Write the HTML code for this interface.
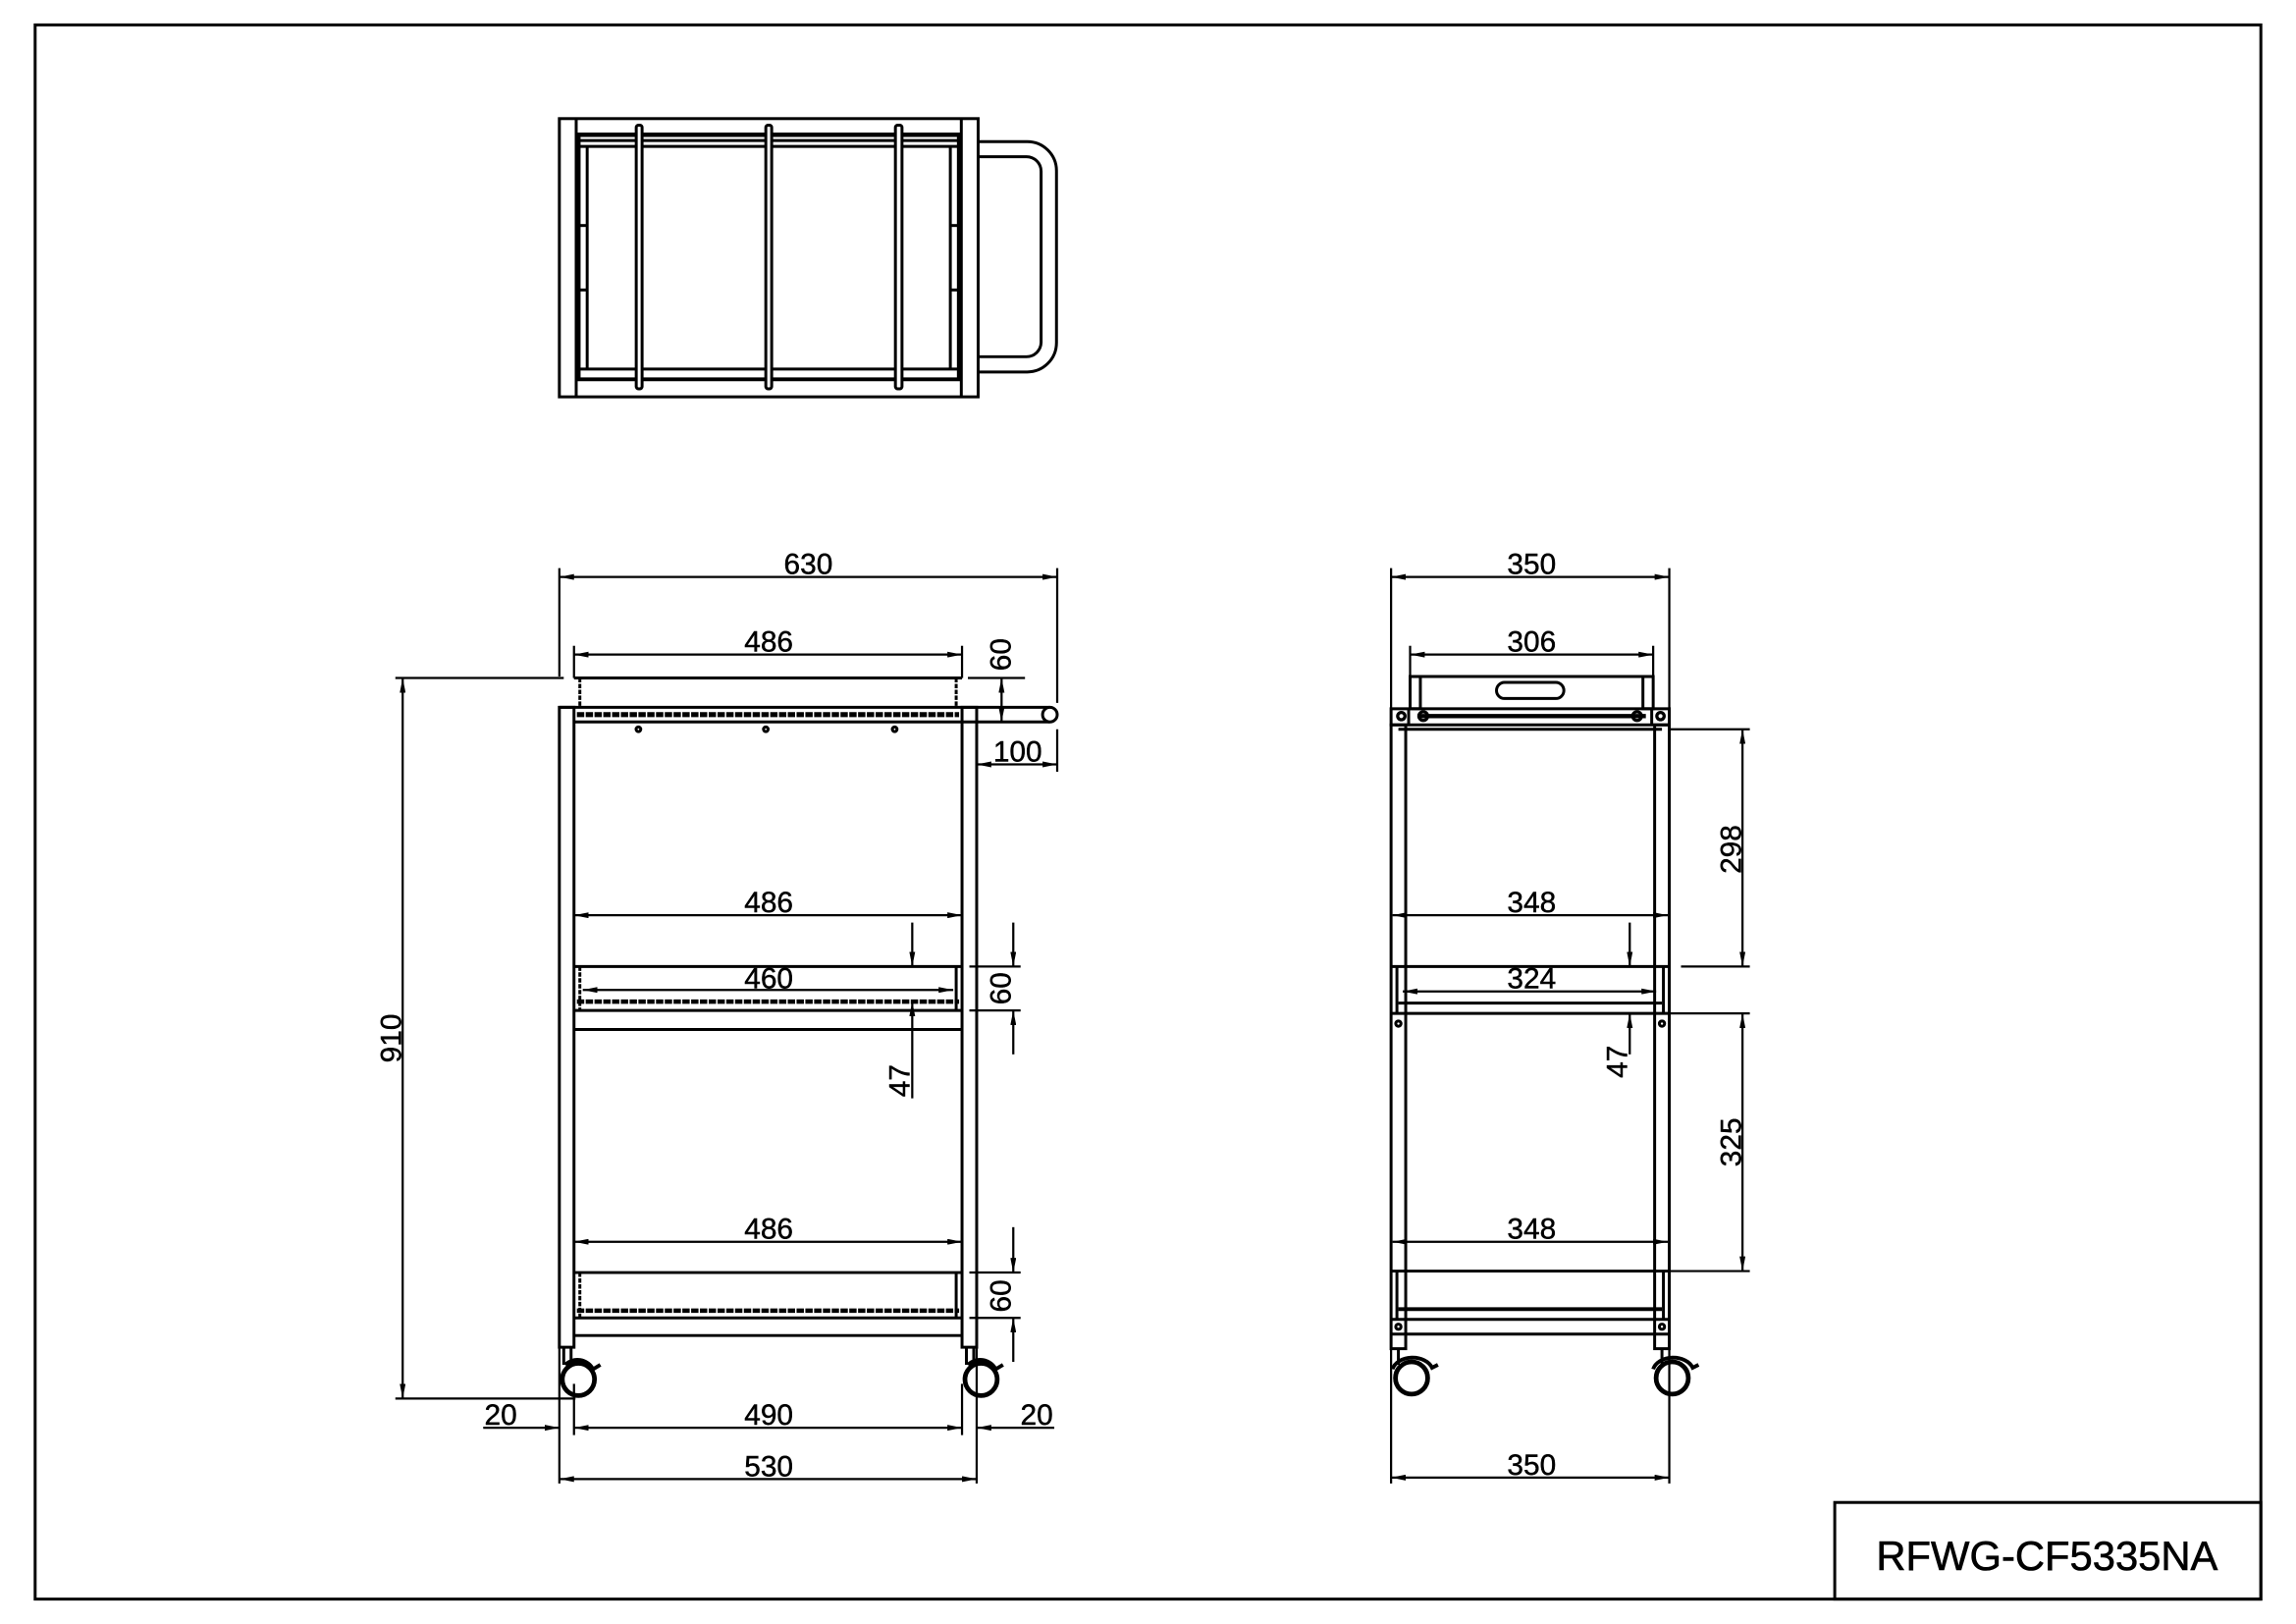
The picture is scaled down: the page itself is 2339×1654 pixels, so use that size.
<!DOCTYPE html>
<html><head><meta charset="utf-8"><style>
html,body{margin:0;padding:0;background:#fff;}
svg{display:block;}
text{font-family:"Liberation Sans",sans-serif;font-size:20px;fill:#000;text-anchor:middle;stroke:#000;stroke-width:0.3;}
</style></head><body>
<svg width="2339" height="1654" viewBox="0 0 1568 1109" preserveAspectRatio="none" xmlns="http://www.w3.org/2000/svg">
<defs>
<marker id="a" viewBox="0 0 10 4" refX="10" refY="2" markerWidth="10" markerHeight="4" markerUnits="userSpaceOnUse" orient="auto-start-reverse"><path d="M0,0 L10,2 L0,4z" fill="#000"/></marker>
</defs>
<rect x="0" y="0" width="1568" height="1109" fill="#fff"/>
<g fill="none" stroke="#000" stroke-width="2">
<rect x="24" y="17" width="1520" height="1075"/>
<rect x="1253" y="1026" width="291" height="66"/>

<!-- TOP VIEW -->
<rect x="382" y="81" width="286" height="190"/>
<line x1="393.5" y1="81" x2="393.5" y2="271"/>
<line x1="656.5" y1="81" x2="656.5" y2="271"/>
<line x1="393" y1="92" x2="657" y2="92" stroke-width="3"/>
<line x1="393" y1="96" x2="657" y2="96"/>
<line x1="393" y1="100" x2="657" y2="100"/>
<line x1="393" y1="252" x2="657" y2="252"/>
<line x1="393" y1="259" x2="657" y2="259" stroke-width="2.6"/>
<line x1="395" y1="92" x2="395" y2="259" stroke-width="3"/>
<line x1="655" y1="92" x2="655" y2="259" stroke-width="3"/>
<line x1="401" y1="100" x2="401" y2="252"/>
<line x1="649" y1="100" x2="649" y2="252"/>
<line x1="395" y1="154" x2="401" y2="154"/><line x1="395" y1="198" x2="401" y2="198"/>
<line x1="649" y1="154" x2="655" y2="154"/><line x1="649" y1="198" x2="655" y2="198"/>
<rect x="434.5" y="85.5" width="4" height="180" rx="1.5" fill="#fff"/>
<rect x="523" y="85.5" width="4" height="180" rx="1.5" fill="#fff"/>
<rect x="611.5" y="85.5" width="4.5" height="180" rx="1.5" fill="#fff"/>
<path d="M668,96.7 H701 A20,20 0 0 1 721.5,117 V234 A20,20 0 0 1 701,254 H668"/>
<path d="M668,107 H701 A10,10 0 0 1 711,117 V234 A10,10 0 0 1 701,243.6 H668"/>

<!-- FRONT VIEW -->
<rect x="382" y="483" width="10" height="437"/>
<rect x="657" y="483" width="10" height="437"/>
<line x1="382" y1="483" x2="717" y2="483"/>
<line x1="392" y1="493" x2="717" y2="493"/>
<circle cx="717" cy="488" r="5" fill="#fff"/>
<line x1="394" y1="488" x2="655" y2="488" stroke-width="3.4" stroke-dasharray="5,1"/>
<line x1="392" y1="463" x2="657" y2="463"/>
<line x1="396" y1="463" x2="396" y2="483" stroke-dasharray="3,1"/>
<line x1="653" y1="463" x2="653" y2="483" stroke-dasharray="3,1"/>
<circle cx="436" cy="498" r="1.6"/><circle cx="523" cy="498" r="1.6"/><circle cx="611" cy="498" r="1.6"/>
<line x1="392" y1="660" x2="657" y2="660"/>
<line x1="396" y1="660" x2="396" y2="690" stroke-dasharray="3,1"/>
<line x1="653" y1="660" x2="653" y2="690"/>
<line x1="394" y1="684" x2="655" y2="684" stroke-width="3" stroke-dasharray="5,1"/>
<line x1="392" y1="690" x2="657" y2="690"/>
<line x1="392" y1="703" x2="657" y2="703"/>
<line x1="392" y1="869" x2="657" y2="869"/>
<line x1="396" y1="869" x2="396" y2="900" stroke-dasharray="3,1"/>
<line x1="653" y1="869" x2="653" y2="900"/>
<line x1="394" y1="895" x2="655" y2="895" stroke-width="3" stroke-dasharray="5,1"/>
<line x1="392" y1="900" x2="657" y2="900"/>
<line x1="392" y1="912" x2="657" y2="912"/>
<line x1="385" y1="920" x2="385" y2="932"/><line x1="390" y1="920" x2="390" y2="932"/>
<circle cx="395" cy="942" r="11" stroke-width="3.2"/>
<path d="M386,932 A12,12 0 0 1 405,935 L410,932" stroke-width="2.6"/>
<line x1="660" y1="920" x2="660" y2="932"/><line x1="665" y1="920" x2="665" y2="932"/>
<circle cx="670" cy="942" r="11" stroke-width="3.2"/>
<path d="M661,932 A12,12 0 0 1 680,935 L685,932" stroke-width="2.6"/>

<!-- SIDE VIEW -->
<line x1="963" y1="462" x2="1129" y2="462"/>
<rect x="963" y="462" width="7" height="22"/>
<rect x="1122" y="462" width="7" height="22"/>
<rect x="1022" y="466" width="46" height="11" rx="5.5"/>
<rect x="950" y="484" width="190" height="11"/>
<line x1="968" y1="489" x2="1124" y2="489" stroke-width="3"/>
<line x1="955" y1="498" x2="1135" y2="498"/>
<circle cx="957" cy="489" r="2.5" stroke-width="2.2"/><circle cx="972" cy="489" r="3" stroke-width="2.2"/>
<circle cx="1118" cy="489" r="3" stroke-width="2.2"/><circle cx="1134" cy="489" r="2.5" stroke-width="2.2"/>
<line x1="962" y1="484" x2="962" y2="495"/><line x1="1128" y1="484" x2="1128" y2="495"/>
<rect x="950" y="495" width="10" height="426"/>
<rect x="1130" y="495" width="10" height="426"/>
<line x1="950" y1="660" x2="1140" y2="660"/>
<line x1="955" y1="685" x2="1135" y2="685"/>
<line x1="950" y1="692" x2="1140" y2="692"/>
<line x1="954" y1="660" x2="954" y2="692"/><line x1="1136" y1="660" x2="1136" y2="692"/>
<circle cx="955" cy="699" r="1.8"/><circle cx="1135" cy="699" r="1.8"/>
<line x1="950" y1="868" x2="1140" y2="868"/>
<line x1="955" y1="894" x2="1135" y2="894" stroke-width="2.6"/>
<line x1="950" y1="901" x2="1140" y2="901"/>
<line x1="950" y1="911" x2="1140" y2="911"/>
<line x1="954" y1="868" x2="954" y2="901"/><line x1="1136" y1="868" x2="1136" y2="901"/>
<circle cx="955" cy="906" r="1.8"/><circle cx="1135" cy="906" r="1.8"/>
<line x1="955" y1="921" x2="955" y2="932"/><line x1="1135" y1="921" x2="1135" y2="932"/>
<ellipse cx="964" cy="941" rx="11" ry="11" stroke-width="3.2"/>
<path d="M951,935 A14,10 0 0 1 978,934 L982,932" stroke-width="2.6"/>
<ellipse cx="1142" cy="941" rx="11" ry="11" stroke-width="3.2"/>
<path d="M1129,935 A14,10 0 0 1 1156,934 L1160,932" stroke-width="2.6"/>
</g>

<g fill="none" stroke="#000" stroke-width="1.5">
<line x1="382" y1="388" x2="382" y2="462"/><line x1="722" y1="388" x2="722" y2="480"/>
<line x1="382" y1="394" x2="722" y2="394" marker-start="url(#a)" marker-end="url(#a)"/>
<line x1="392" y1="441" x2="392" y2="463"/><line x1="657" y1="441" x2="657" y2="463"/>
<line x1="392" y1="447" x2="657" y2="447" marker-start="url(#a)" marker-end="url(#a)"/>
<line x1="661" y1="463" x2="700" y2="463"/>
<line x1="684" y1="463" x2="684" y2="493" marker-start="url(#a)" marker-end="url(#a)"/>
<line x1="722" y1="498" x2="722" y2="527"/>
<line x1="667" y1="522" x2="722" y2="522" marker-start="url(#a)" marker-end="url(#a)"/>
<line x1="270" y1="463" x2="385" y2="463"/><line x1="270" y1="955" x2="393" y2="955"/>
<line x1="275" y1="463" x2="275" y2="955" marker-start="url(#a)" marker-end="url(#a)"/>
<line x1="392" y1="618" x2="392" y2="660"/><line x1="657" y1="618" x2="657" y2="660"/>
<line x1="392" y1="625" x2="657" y2="625" marker-start="url(#a)" marker-end="url(#a)"/>
<line x1="398" y1="676" x2="651" y2="676" marker-start="url(#a)" marker-end="url(#a)"/>
<line x1="662" y1="660" x2="697" y2="660"/><line x1="662" y1="690" x2="697" y2="690"/>
<line x1="692" y1="630" x2="692" y2="660" marker-end="url(#a)"/>
<line x1="692" y1="720" x2="692" y2="690" marker-end="url(#a)"/>
<line x1="623" y1="630" x2="623" y2="660" marker-end="url(#a)"/>
<line x1="623" y1="750" x2="623" y2="684" marker-end="url(#a)"/>
<line x1="392" y1="842" x2="392" y2="869"/><line x1="657" y1="842" x2="657" y2="869"/>
<line x1="392" y1="848" x2="657" y2="848" marker-start="url(#a)" marker-end="url(#a)"/>
<line x1="662" y1="869" x2="697" y2="869"/><line x1="662" y1="900" x2="697" y2="900"/>
<line x1="692" y1="838" x2="692" y2="869" marker-end="url(#a)"/>
<line x1="692" y1="930" x2="692" y2="900" marker-end="url(#a)"/>
<line x1="382" y1="920" x2="382" y2="1013"/><line x1="667" y1="920" x2="667" y2="1013"/>
<line x1="392" y1="945" x2="392" y2="980"/><line x1="657" y1="945" x2="657" y2="980"/>
<line x1="330" y1="975" x2="382" y2="975" marker-end="url(#a)"/>
<line x1="392" y1="975" x2="657" y2="975" marker-start="url(#a)" marker-end="url(#a)"/>
<line x1="720" y1="975" x2="667" y2="975" marker-end="url(#a)"/>
<line x1="382" y1="1010" x2="667" y2="1010" marker-start="url(#a)" marker-end="url(#a)"/>
<line x1="950" y1="388" x2="950" y2="484"/><line x1="1140" y1="388" x2="1140" y2="484"/>
<line x1="950" y1="394" x2="1140" y2="394" marker-start="url(#a)" marker-end="url(#a)"/>
<line x1="963" y1="441" x2="963" y2="462"/><line x1="1129" y1="441" x2="1129" y2="462"/>
<line x1="963" y1="447" x2="1129" y2="447" marker-start="url(#a)" marker-end="url(#a)"/>
<line x1="1140" y1="498" x2="1195" y2="498"/><line x1="1148" y1="660" x2="1195" y2="660"/>
<line x1="1190" y1="498" x2="1190" y2="660" marker-start="url(#a)" marker-end="url(#a)"/>
<line x1="951" y1="625" x2="1139" y2="625" marker-start="url(#a)" marker-end="url(#a)"/>
<line x1="958" y1="677" x2="1131" y2="677" marker-start="url(#a)" marker-end="url(#a)"/>
<line x1="1113" y1="630" x2="1113" y2="660" marker-end="url(#a)"/>
<line x1="1113" y1="720" x2="1113" y2="692" marker-end="url(#a)"/>
<line x1="1140" y1="692" x2="1195" y2="692"/><line x1="1140" y1="868" x2="1195" y2="868"/>
<line x1="1190" y1="692" x2="1190" y2="868" marker-start="url(#a)" marker-end="url(#a)"/>
<line x1="951" y1="848" x2="1139" y2="848" marker-start="url(#a)" marker-end="url(#a)"/>
<line x1="950" y1="921" x2="950" y2="1013"/><line x1="1140" y1="921" x2="1140" y2="1013"/>
<line x1="950" y1="1009" x2="1140" y2="1009" marker-start="url(#a)" marker-end="url(#a)"/>
</g>

<g>
<text x="552" y="392">630</text>
<text x="525" y="445">486</text>
<text transform="translate(690,447) rotate(-90)">60</text>
<text x="695" y="520">100</text>
<text transform="translate(274,709) rotate(-90)">910</text>
<text x="525" y="623">486</text>
<text x="525" y="675">460</text>
<text transform="translate(690,675) rotate(-90)">60</text>
<text transform="translate(621,738) rotate(-90)">47</text>
<text x="525" y="846">486</text>
<text transform="translate(690,885) rotate(-90)">60</text>
<text x="342" y="973">20</text>
<text x="525" y="973">490</text>
<text x="708" y="973">20</text>
<text x="525" y="1008">530</text>
<text x="1046" y="392">350</text>
<text x="1046" y="445">306</text>
<text transform="translate(1189,580) rotate(-90)">298</text>
<text x="1046" y="623">348</text>
<text x="1046" y="675">324</text>
<text transform="translate(1111,725) rotate(-90)">47</text>
<text transform="translate(1189,780) rotate(-90)">325</text>
<text x="1046" y="846">348</text>
<text x="1046" y="1007">350</text>
<text x="1398" y="1072" style="font-size:28px;stroke-width:0.4">RFWG-CF5335NA</text>
</g>
</svg>
</body></html>
